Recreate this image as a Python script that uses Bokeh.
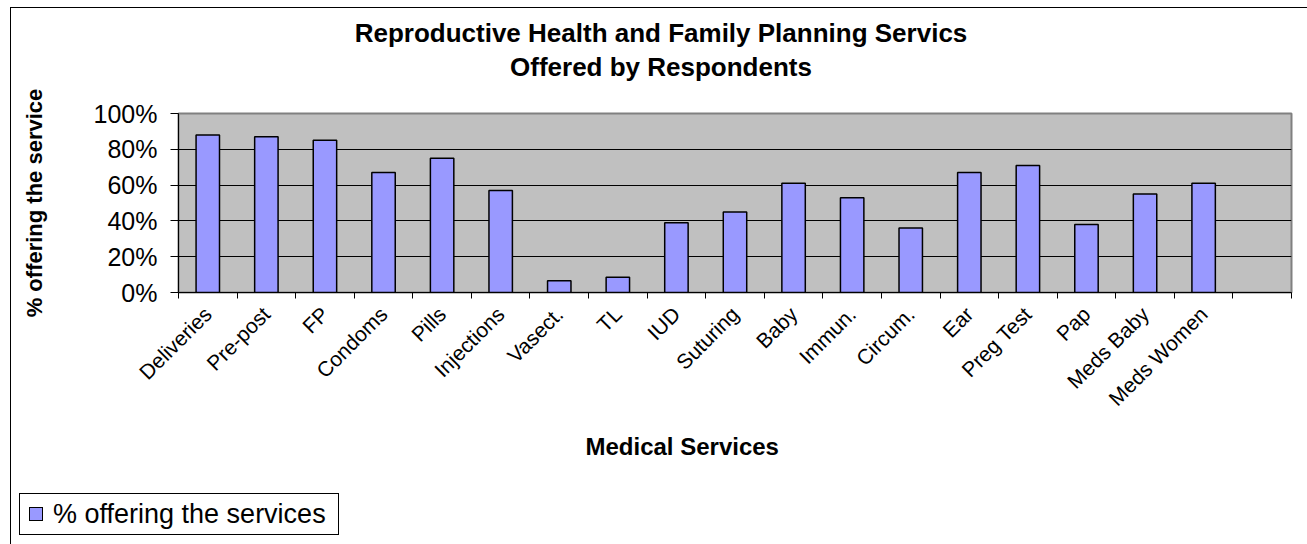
import math
from bokeh.plotting import figure
from bokeh.layouts import column
from bokeh.models import (Range1d, FixedTicker, NumeralTickFormatter, Title, Div)
from bokeh.embed import file_html
from bokeh.resources import INLINE

# ---- data ----
categories = ["Deliveries", "Pre-post", "FP", "Condoms", "Pills", "Injections",
              "Vasect.", "TL", "IUD", "Suturing", "Baby", "Immun.", "Circum.",
              "Ear", "Preg Test", "Pap", "Meds Baby", "Meds Women", ""]
values = [0.88, 0.87, 0.85, 0.67, 0.75, 0.57, 0.065, 0.085, 0.39, 0.45,
          0.61, 0.53, 0.36, 0.67, 0.71, 0.38, 0.55, 0.61]
series_name = "% offering the services"
title_lines = ["Reproductive Health and Family Planning Servics",
               "Offered by Respondents"]
x_title = "Medical Services"
y_title = "% offering the service"
y_ticks = [0, 0.2, 0.4, 0.6, 0.8, 1.0]

FONT = "Liberation Sans"
BAR_FILL = "#9999FF"
n_slots = len(categories)
xs = [i + 0.5 for i in range(len(values))]

# ---- chart title strip ----
title_html = (
    '<div style="box-sizing:border-box; width:1307px; height:84px; '
    'padding:16px 0 0 15px; text-align:center; line-height:34px; '
    f"font-family:'{FONT}'; font-weight:bold; font-size:26px; color:black; "
    'white-space:nowrap;">'
    + "<br>".join(title_lines) + "</div>"
)
title_div = Div(text=title_html, width=1307, height=84, margin=0)

# ---- main chart ----
p = figure(width=1307, height=406, output_backend="svg", toolbar_location=None,
           title=None,
           x_range=Range1d(0, n_slots), y_range=Range1d(0, 1),
           min_border_left=178, min_border_right=16, min_border_top=29,
           min_border_bottom=198)
p.background_fill_color = "#C0C0C0"
p.border_fill_alpha = 0
p.outline_line_color = "#808080"
p.outline_line_width = 2

p.vbar(x=xs, top=values, width=0.4, bottom=0, fill_color=BAR_FILL,
       line_color="black", line_width=1.5, legend_label=series_name)
p.legend.visible = False  # legend is drawn in the strip below the chart

# grid
p.xgrid.visible = False
p.ygrid.ticker = FixedTicker(ticks=y_ticks)
p.ygrid.grid_line_color = "black"
p.ygrid.grid_line_width = 1

# y axis
ya = p.yaxis[0]
ya.ticker = FixedTicker(ticks=y_ticks)
ya.formatter = NumeralTickFormatter(format="0%")
ya.major_tick_out = 8
ya.major_tick_in = 0
ya.minor_tick_line_color = None
ya.axis_line_color = "black"
ya.major_tick_line_color = "black"
ya.major_label_text_font = FONT
ya.major_label_text_font_size = "25px"
ya.major_label_text_color = "black"
ya.major_label_standoff = 13
ya.axis_label = y_title
ya.axis_label_text_font = FONT
ya.axis_label_text_font_style = "bold"
ya.axis_label_text_font_size = "22px"
ya.axis_label_text_color = "black"
ya.axis_label_standoff = 44

# x axis: labels at category centres, tick marks between categories
xa = p.xaxis[0]
xa.ticker = FixedTicker(ticks=[i + 0.5 for i in range(n_slots)],
                        minor_ticks=list(range(n_slots + 1)))
xa.major_label_overrides = {i + 0.5: c for i, c in enumerate(categories)}
xa.major_tick_line_color = None
xa.minor_tick_line_color = "black"
xa.minor_tick_out = 6
xa.minor_tick_in = 0
xa.axis_line_color = "black"
xa.major_label_orientation = math.pi / 4
xa.major_label_text_font = FONT
xa.major_label_text_font_size = "21px"
xa.major_label_text_color = "black"
xa.major_label_standoff = 12

# x axis title
p.add_layout(Title(text=x_title, align="left", offset=407,
                   text_font=FONT, text_font_style="bold", text_color="black",
                   text_font_size="24px", standoff=18), "below")

# ---- legend strip below the chart ----
legend_html = (
    '<div style="margin:3px 0 0 19px; width:320px; height:42px; '
    'box-sizing:border-box; border:1px solid black; background:white; '
    'display:flex; align-items:center; '
    f"font-family:'{FONT}'; font-size:27px; color:black; white-space:nowrap;\">"
    f'<span style="display:inline-block; width:14px; height:14px; '
    f'box-sizing:border-box; background:{BAR_FILL}; border:1px solid black; '
    'margin:0 10px 0 9px;"></span>'
    f'{series_name}</div>'
)
legend_div = Div(text=legend_html, width=1307, height=54, margin=0)

layout = column(title_div, p, legend_div, spacing=0)
# outer chart border (top and left edge)
layout.styles = {
    "background": ("linear-gradient(#000,#000) 10px 7px / 1px 100% no-repeat, "
                   "linear-gradient(#000,#000) 10px 7px / 100% 1px no-repeat, white"),
}

open("out.html", "w").write(file_html(layout, INLINE))
